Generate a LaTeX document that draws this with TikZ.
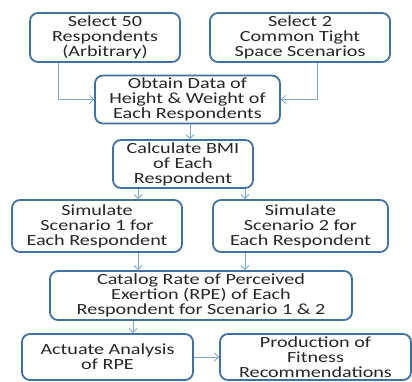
\documentclass[tikz,border=0pt]{standalone}
\usepackage{fontspec}
\setmainfont[FakeStretch=1.3]{Carlito}
\usetikzlibrary{arrows.meta}
\definecolor{boxline}{HTML}{41719C}
\definecolor{arrline}{HTML}{7EA6D2}
\definecolor{txt}{HTML}{262626}
\tikzset{
  flowbox/.style={draw=boxline, line width=1.8pt, rounded corners=8pt, fill=white,
    inner sep=0pt, align=center, text=txt,
    font=\fontsize{15.5}{15}\selectfont},
  arr/.style={draw=arrline, line width=0.9pt, -{Straight Barb[length=4pt,width=8pt]}}
}
\begin{document}
\begin{tikzpicture}[x=1pt,y=-1pt]
\useasboundingbox (0,0) rectangle (412,381);
\node[flowbox, minimum width=150pt, minimum height=49pt] (b1) at (105,37.5) {Select 50\\Respondents\\(Arbitrary)};
\node[flowbox, minimum width=180pt, minimum height=49pt] (b2) at (300,37.5) {Select 2\\Common Tight\\Space Scenarios};
\node[flowbox, minimum width=185pt, minimum height=48pt] (b3) at (187.5,99.5) {Obtain Data of\\Height \& Weight of\\Each Respondents};
\node[flowbox, minimum width=140pt, minimum height=48pt] (b4) at (183,164) {Calculate BMI\\of Each\\Respondent};
\node[flowbox, minimum width=170pt, minimum height=52pt] (b5) at (97,226) {Simulate\\Scenario 1 for\\Each Respondent};
\node[flowbox, minimum width=175pt, minimum height=52pt] (b6) at (300.5,226) {Simulate\\Scenario 2 for\\Each Respondent};
\node[flowbox, minimum width=302pt, minimum height=49pt] (b7) at (201,295.5) {Catalog Rate of Perceived\\Exertion (RPE) of Each\\Respondent for Scenario 1 \& 2};
\node[flowbox, minimum width=171pt, minimum height=46pt] (b8) at (107.5,357) {Actuate Analysis\\of RPE};
\node[flowbox, minimum width=191pt, minimum height=46pt] (b9) at (315.5,357) {Production of\\Fitness\\Recommendations};
\coordinate (x58) at (58,0);
\coordinate (x317) at (317,0);
\coordinate (x190) at (190,0);
\coordinate (x138) at (138,0);
\coordinate (x245) at (245,0);
\coordinate (x133) at (133,0);
\draw[arr] (b1.south -| x58) |- (b3.west);
\draw[arr] (b2.south -| x317) |- (b3.east);
\draw[arr] (b3.south -| x190) -- (b4.north -| x190);
\draw[arr] (b4.south -| x138) -- (b5.north -| x138);
\draw[arr] (b4.south -| x245) -- (b6.north -| x245);
\draw[arr] (b5.south -| x138) -- (b7.north -| x138);
\draw[arr] (b6.south -| x245) -- (b7.north -| x245);
\draw[arr] (b7.south -| x133) -- (b8.north -| x133);
\draw[arr] (b8.east) -- (b9.west);
\end{tikzpicture}
\end{document}
